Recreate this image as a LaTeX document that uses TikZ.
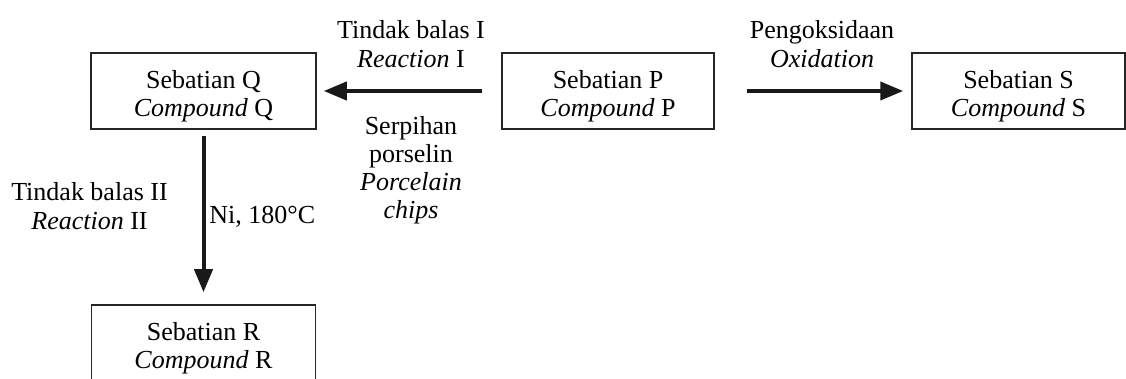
\documentclass[tikz,border=0pt]{standalone}
\usepackage{fontspec}
\setmainfont{Liberation Serif}
\usetikzlibrary{arrows.meta}
\begin{document}
\begin{tikzpicture}[x=0.5pt,y=-0.5pt,
  cbox/.style={draw=black!85, line width=0.75pt, minimum height=38pt, inner sep=0pt},
  ctext/.style={align=center, inner sep=0pt, font=\fontsize{13}{13.8}\selectfont},
  lbl/.style={align=center, inner sep=0pt, font=\fontsize{13}{14.5}\selectfont},
  arr/.style={line width=2pt, -{Triangle[length=11.5pt,width=9pt]}, black!90}]
\useasboundingbox (0,0) rectangle (1126,379);
\clip (0,0) rectangle (1126,379);
\node[cbox, minimum width=112.5pt] (Q) at (203.5,91) {};
\node[cbox, minimum width=106pt] (P) at (608,91) {};
\node[cbox, minimum width=106.5pt] (S) at (1018.5,91) {};
\node[cbox, minimum width=112pt] (R) at (203.5,343) {};
\node[ctext] (Qt) at ([yshift=-2.5pt]Q.center) {Sebatian Q\\\textit{Compound} Q};
\node[ctext] (Pt) at ([yshift=-2.5pt]P.center) {Sebatian P\\\textit{Compound} P};
\node[ctext] (St) at ([yshift=-2.5pt]S.center) {Sebatian S\\\textit{Compound} S};
\node[ctext] (Rt) at ([yshift=-2.5pt]R.center) {Sebatian R\\\textit{Compound} R};
\draw[arr, shorten <=9.5pt, shorten >=3.5pt] (P.west) -- (Q.east);
\draw[arr, shorten <=16pt, shorten >=4pt] (P.east) -- (S.west);
\draw[arr, shorten <=3pt, shorten >=6pt] (Q.south) -- (R.north);
\node[lbl] (l1) at (411,44) {Tindak balas I\\\textit{Reaction} I};
\node[lbl] (l2) at (822,44) {Pengoksidaan\\\textit{Oxidation}};
\node[lbl, font=\fontsize{13}{14}\selectfont] (l3) at (411,170.5) {Serpihan\\porselin\\\textit{Porcelain}\\\textit{chips}};
\node[lbl] (l4) at (89.5,206) {Tindak balas II\\\textit{Reaction} II};
\node[lbl, anchor=base west] (l5) at (209,224) {Ni, 180°C};
\end{tikzpicture}
\end{document}
